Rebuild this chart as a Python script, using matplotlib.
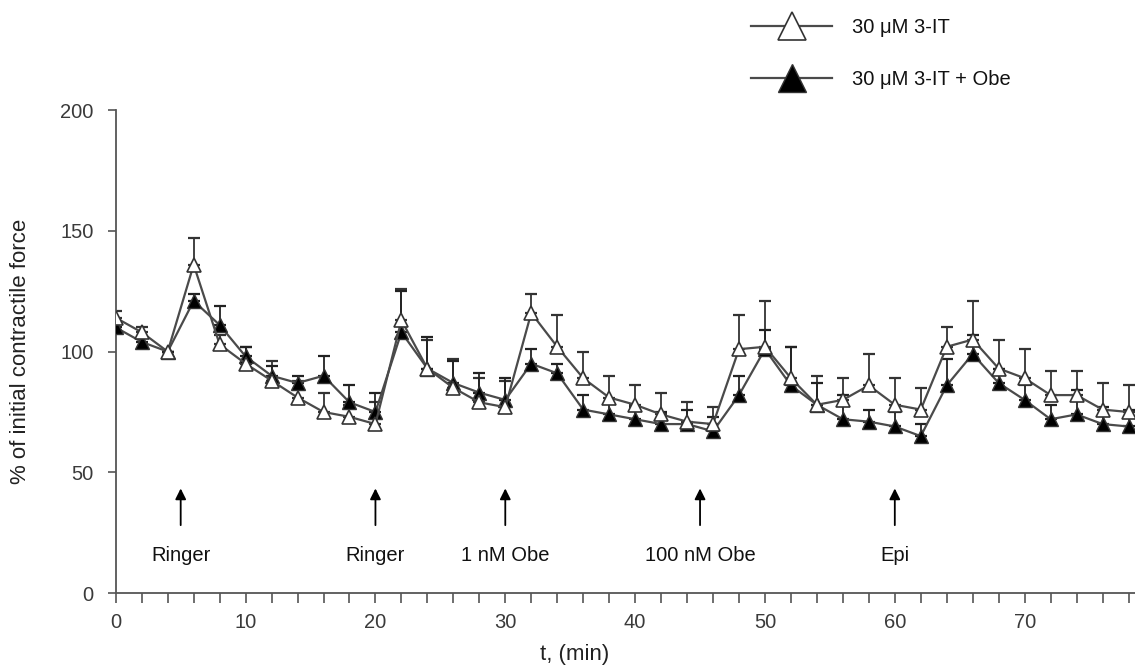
import matplotlib
matplotlib.use('Agg')
import matplotlib.pyplot as plt
from matplotlib.ticker import MultipleLocator

plt.rcParams['font.family'] = ['Liberation Sans', 'DejaVu Sans']

t = list(range(0, 80, 2))
it3 = [114, 108, 100, 136, 103, 95, 88, 81, 75, 73, 70, 113, 93, 85, 79, 77, 116, 102, 89, 81,
       78, 74, 71, 70, 101, 102, 89, 78, 80, 86, 78, 76, 102, 105, 93, 89, 82, 82, 76, 75]
it3_err = [3, 2, 0, 11, 4, 7, 8, 7, 8, 5, 9, 13, 12, 12, 10, 11, 8, 13, 11, 9,
           8, 9, 8, 7, 14, 19, 13, 12, 9, 13, 11, 9, 8, 16, 12, 12, 10, 10, 11, 11]
obe = [110, 104, 100, 121, 111, 98, 90, 87, 90, 79, 75, 108, 93, 87, 83, 80, 95, 91, 76, 74,
       72, 70, 70, 67, 82, 101, 86, 78, 72, 71, 69, 65, 86, 99, 87, 80, 72, 74, 70, 69]
obe_err = [2, 2, 0, 3, 8, 4, 4, 3, 8, 7, 8, 17, 13, 9, 8, 9, 6, 4, 6, 5,
           5, 5, 6, 6, 8, 8, 16, 9, 10, 5, 6, 5, 11, 8, 6, 6, 6, 10, 7, 7]

events_t = [5, 20, 30, 45, 60]
events_lbl = ['Ringer', 'Ringer', '1 nM Obe', '100 nM Obe', 'Epi']

line_c = '#4a4a4a'
text_c = '#3a3a3a'

fig = plt.figure(figsize=(11.35, 6.71), dpi=100)
ax = fig.add_axes([0.102, 0.116, 0.898, 0.72])

ax.errorbar(t, it3, yerr=[[0] * len(t), it3_err], fmt='none', ecolor='#333333',
            elinewidth=1.3, capsize=4, capthick=1.6, zorder=2)
ax.errorbar(t, obe, yerr=[[0] * len(t), obe_err], fmt='none', ecolor='#222222',
            elinewidth=1.3, capsize=4, capthick=1.6, zorder=2)
h1, = ax.plot(t, it3, '-^', color=line_c, lw=1.6, ms=10, mfc='white', mec='#333333',
              mew=1.2, zorder=4, label='30 \u03bcM 3-IT')
h2, = ax.plot(t, obe, '-^', color=line_c, lw=1.6, ms=10, mfc='black', mec='#333333',
              mew=1.0, zorder=3, label='30 \u03bcM 3-IT + Obe')

for x, lbl in zip(events_t, events_lbl):
    ax.annotate('', xy=(x, 44.5), xytext=(x, 27),
                arrowprops=dict(arrowstyle='-|>', color='black', lw=1.3, mutation_scale=16))
    ax.text(x, 15.5, lbl, ha='center', va='center', fontsize=14.5, color='#111111')

ax.set_xlim(0, 78.5)
ax.set_ylim(0, 200)
ax.xaxis.set_major_locator(MultipleLocator(10))
ax.xaxis.set_minor_locator(MultipleLocator(2))
ax.yaxis.set_major_locator(MultipleLocator(50))
for s in ['top', 'right']:
    ax.spines[s].set_visible(False)
for s in ['left', 'bottom']:
    ax.spines[s].set_color('#555555')
    ax.spines[s].set_linewidth(1.3)
ax.tick_params(which='both', direction='out', color='#555555', width=1.2)
ax.tick_params(axis='y', which='major', length=6, labelsize=14.5, labelcolor=text_c, pad=10)
ax.tick_params(axis='x', which='major', length=7, labelsize=14.5, labelcolor=text_c, pad=7)
ax.tick_params(which='minor', length=7)

ax.set_ylabel('% of initial contractile force', fontsize=16, color='#222222')
ax.yaxis.set_label_coords(-0.083, 0.5)
ax.set_xlabel('t, (min)', fontsize=16, color='#222222')
ax.xaxis.set_label_coords(0.45, -0.105)

fig.legend(handles=[h1, h2], loc='upper left', bbox_to_anchor=(0.646, 1.0),
           frameon=False, fontsize=14.5, handlelength=4.0, labelspacing=1.65,
           markerscale=2.0, handletextpad=1.0, labelcolor='#111111')

fig.savefig('out.png', dpi=100)
